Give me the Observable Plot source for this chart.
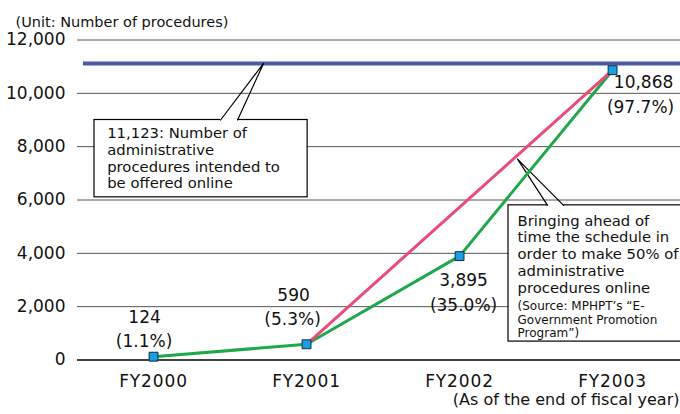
<!DOCTYPE html>
<html><head><meta charset="utf-8">
<script src="https://cdn.jsdelivr.net/npm/d3@7"></script>
<script src="https://cdn.jsdelivr.net/npm/@observablehq/plot@0.6"></script>
<style>
html,body{margin:0;padding:0;background:#fff;overflow:hidden}
#chart svg{display:block}
</style></head><body><div id="chart"></div>
<script>
// ---- data ----
const years = ["FY2000", "FY2001", "FY2002", "FY2003"];
const actual = [124, 590, 3895, 10868];
const valueLabels = ["124", "590", "3,895", "10,868"];
const pctLabels = ["(1.1%)", "(5.3%)", "(35.0%)", "(97.7%)"];
const planYears = ["FY2001", "FY2003"];
const planValues = [590, 10868];
const target = 11123;
const yTicks = [0, 2000, 4000, 6000, 8000, 10000, 12000];
const note1 = ["11,123: Number of", "administrative", "procedures intended to", "be offered online"];
const note2 = ["Bringing ahead of", "time the schedule in", "order to make 50% of", "administrative", "procedures online"];
const note2Source = ["(Source: MPHPT’s “E-", "Government Promotion", "Program”)"];
const unitLabel = "(Unit: Number of procedures)";
const asOfLabel = "(As of the end of fiscal year)";

// ---- derived tables ----
const series = years.map((y, i) => ({i, value: actual[i], v: valueLabels[i], p: pctLabels[i]}));
const plan = planYears.map((y, k) => ({i: years.indexOf(y), value: planValues[k]}));

// ---- layout (annotation geometry in data units) ----
const box1 = {x1: -0.386, x2: 1.007, y1: 6100, y2: 9000};
const ptr1 = [{x: 0.438, y: 9000}, {x: 0.719, y: 11123}, {x: 0.549, y: 9000}];
const box2 = {x1: 2.32, x2: 3.7, y1: 690, y2: 5800};
const ptr2 = [{x: 2.575, y: 5800}, {x: 2.379, y: 7530}, {x: 2.68, y: 5800}];
const valDx = [-9, -13, 4, 31], valDy = [-39, -49, 24, 12];
const pctDx = [-9.5, -14, 4, 28], pctDy = [-15, -25, 49, 37];

const FONT = "'DejaVu Sans', sans-serif";

const plot = Plot.plot({
  width: 680, height: 414,
  marginLeft: 77, marginRight: 0, marginTop: 39.5, marginBottom: 54.5,
  style: {fontFamily: FONT, fontSize: "17px", color: "#111", background: "#fff"},
  x: {type: "linear", domain: [-0.497, 3.444], axis: null},
  y: {domain: [0, 12000], axis: null},
  marks: [
    Plot.ruleY(yTicks.filter(v => v > 0), {stroke: "#555", strokeWidth: 1}),
    Plot.ruleY([0], {stroke: "#000", strokeWidth: 1.5}),
    Plot.axisY(yTicks, {tickSize: 0, tickPadding: 12, tickFormat: d3.format(","), fontSize: 17}),
    Plot.axisX(years.map((_, i) => i), {tickSize: 0, tickPadding: 14.5, tickFormat: i => years[i], fontSize: 17}),
    Plot.ruleY([target], {x1: -0.458, x2: 3.444, stroke: "#4a5aa8", strokeWidth: 4}),
    // callout boxes
    Plot.rect([box1], {x1: "x1", x2: "x2", y1: "y1", y2: "y2", fill: "white", stroke: "black", strokeWidth: 1.2}),
    Plot.rect([box2], {x1: "x1", x2: "x2", y1: "y1", y2: "y2", fill: "white", stroke: "black", strokeWidth: 1.2, clip: true}),
    Plot.ruleY([ptr1[0].y], {x1: ptr1[0].x, x2: ptr1[2].x, stroke: "white", strokeWidth: 3}),
    Plot.ruleY([ptr2[0].y], {x1: ptr2[0].x, x2: ptr2[2].x, stroke: "white", strokeWidth: 3}),
    Plot.line(ptr1, {x: "x", y: "y", stroke: "black", strokeWidth: 1.2, curve: "linear"}),
    Plot.line(ptr2, {x: "x", y: "y", stroke: "black", strokeWidth: 1.2, curve: "linear"}),
    Plot.text([note1.join("\n")], {x: -0.303, y: 8750, text: d => d, textAnchor: "start", lineAnchor: "top", lineHeight: 1.12, fontSize: 14.8, fill: "#111"}),
    Plot.text([note2.join("\n")], {x: 2.379, y: 5480, text: d => d, textAnchor: "start", lineAnchor: "top", lineHeight: 1.13, fontSize: 14.8, fill: "#111"}),
    Plot.text([note2Source.join("\n")], {x: 2.379, y: 2230, text: d => d, textAnchor: "start", lineAnchor: "top", lineHeight: 1.12, fontSize: 12, fill: "#111"}),
    // series
    Plot.line(series, {x: "i", y: "value", stroke: "#1fa84a", strokeWidth: 3}),
    Plot.line(plan, {x: "i", y: "value", stroke: "#e84c7a", strokeWidth: 3}),
    Plot.dot(series, {x: "i", y: "value", symbol: "square", r: 5, fill: "#1aa0e0", stroke: "#0d2a4a", strokeWidth: 1}),
    ...series.map((d, k) => Plot.text([d], {x: "i", y: "value", text: "v", dx: valDx[k], dy: valDy[k], fontSize: 17, fill: "#111"})),
    ...series.map((d, k) => Plot.text([d], {x: "i", y: "value", text: "p", dx: pctDx[k], dy: pctDy[k], fontSize: 17, fill: "#111"})),
    // frame texts
    Plot.text([unitLabel], {frameAnchor: "top-left", text: d => d, textAnchor: "start", dx: -62, dy: -23, fontSize: 14.5, fill: "#111"}),
    Plot.text([asOfLabel], {frameAnchor: "bottom-right", text: d => d, textAnchor: "end", dx: -1, dy: 44.5, fontSize: 16, fill: "#111"})
  ]
});
d3.select(plot).selectAll("[aria-label='x-axis tick label'] text").attr("letter-spacing", "0.9");
document.getElementById("chart").appendChild(plot);
</script></body></html>
